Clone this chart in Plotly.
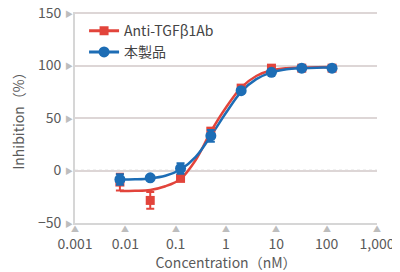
import math
import plotly.graph_objects as go

# ---- data ----
conc = [0.0078, 0.03125, 0.125, 0.5, 2, 8, 32, 128]
red_y = [-11, -28.5, -7.5, 37.5, 78.5, 97.5, 97.5, 97.5]
red_err = [8, 8, 2, 3, 2, 1.5, 1, 1]
blue_y = [-8.5, -7, 2, 33, 76, 93.5, 97.5, 97.5]
blue_err = [5, 1.5, 5, 5.5, 2, 1.5, 1, 1]

fit_x = [0.0078, 0.0156, 0.03125, 0.0625, 0.125, 0.25, 0.5, 1, 2, 4, 8, 16, 32, 64, 128]
red_fit = [-19.5, -19.3, -18.5, -15, -8, 10, 37, 60, 79, 90, 95.5, 97.5, 98, 98.3, 98.5]
blue_fit = [-8.5, -8.3, -7.5, -5, 1, 13, 33, 55, 75, 87, 93.5, 96.5, 97.5, 98, 98]

x_ticks = [0.001, 0.01, 0.1, 1, 10, 100, 1000]
x_labels = ["0.001", "0.01", "0.1", "1", "10", "100", "1,000"]
y_ticks = [-50, 0, 50, 100, 150]
y_labels = ["\u221250", "0", "50", "100", "150"]

RED = "#e2443b"
BLUE = "#1d6db5"
FONT = "Noto Sans CJK JP"
TXT = "#5a5a5a"

fig = go.Figure()

# fitted curves
fig.add_trace(go.Scatter(x=fit_x, y=red_fit, mode="lines", line=dict(color=RED, width=2.5, shape="spline"),
                         showlegend=False, hoverinfo="skip"))
fig.add_trace(go.Scatter(x=fit_x, y=blue_fit, mode="lines", line=dict(color=BLUE, width=2.5, shape="spline"),
                         showlegend=False, hoverinfo="skip"))
# data points
fig.add_trace(go.Scatter(x=conc, y=red_y, mode="markers",
                         marker=dict(symbol="square", size=9, color=RED),
                         error_y=dict(type="data", array=red_err, color=RED, thickness=2, width=4),
                         showlegend=False))
fig.add_trace(go.Scatter(x=conc, y=blue_y, mode="markers",
                         marker=dict(symbol="circle", size=11, color=BLUE),
                         error_y=dict(type="data", array=blue_err, color=BLUE, thickness=2, width=4),
                         showlegend=False))
# legend entries
fig.add_trace(go.Scatter(x=[None], y=[None], mode="lines+markers", name="Anti-TGF\u03b21Ab",
                         line=dict(color=RED, width=3), marker=dict(symbol="square", size=9, color=RED)))
fig.add_trace(go.Scatter(x=[None], y=[None], mode="lines+markers", name="本製品",
                         line=dict(color=BLUE, width=3), marker=dict(symbol="circle", size=11, color=BLUE)))

# zero line: cover the solid grid line and draw it dotted
shapes = [
    dict(type="line", xref="paper", x0=0, x1=1, yref="y", y0=0, y1=0, layer="below",
         line=dict(color="white", width=3)),
    dict(type="line", xref="paper", x0=0, x1=1, yref="y", y0=0, y1=0, layer="below",
         line=dict(color="#c8c8c8", width=1.5, dash="dot")),
]

annotations = []
for v in x_ticks:
    annotations.append(dict(x=math.log10(v), xref="x", y=0, yref="paper", text="\u25b2", showarrow=False,
                            yanchor="top", yshift=2, font=dict(size=8, color="#bdbdbd")))
for v in y_ticks:
    annotations.append(dict(x=0, xref="paper", y=v, yref="y", text="\u25b6", showarrow=False,
                            xanchor="right", xshift=0, font=dict(size=8, color="#bdbdbd")))

fig.update_layout(
    width=392, height=264,
    margin=dict(l=67, r=23, t=4, b=49, autoexpand=False),
    paper_bgcolor="white", plot_bgcolor="white",
    font=dict(family=FONT, size=14, color=TXT),
    shapes=shapes, annotations=annotations,
    legend=dict(x=0.03, y=0.985, xanchor="left", yanchor="top", bgcolor="rgba(0,0,0,0)",
                font=dict(size=14, color="#444444"), tracegroupgap=0, itemwidth=30),
    xaxis=dict(type="log", range=[-3, 3], tickvals=x_ticks, ticktext=x_labels, automargin=False,
               showgrid=False, zeroline=False, showline=True, linecolor="#d6d6d6", linewidth=2,
               ticks="outside", ticklen=7, tickcolor="rgba(0,0,0,0)", ticklabeloverflow="allow",
               title=dict(text="Concentration（nM）", standoff=2, font=dict(size=14, color=TXT))),
    yaxis=dict(range=[-50, 151], tickvals=y_ticks, ticktext=y_labels, automargin=False,
               showgrid=True, gridcolor="#ddd6d6", gridwidth=2,
               zeroline=False, showline=True, linecolor="#d6d6d6", linewidth=2,
               ticks="outside", ticklen=9, tickcolor="rgba(0,0,0,0)", ticklabeloverflow="allow",
               title=dict(text="Inhibition（%）", standoff=10, font=dict(size=14, color=TXT))),
)

fig.write_html("out.html")
